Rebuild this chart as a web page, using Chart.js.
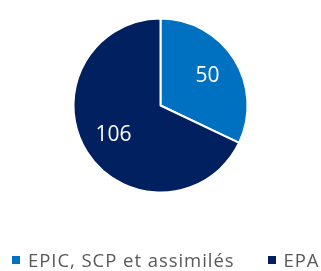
<!DOCTYPE html>
<html>
<head>
<meta charset="utf-8">
<script src="https://cdn.jsdelivr.net/npm/chart.js@4/dist/chart.umd.min.js"></script>
<style>
  html, body { margin: 0; padding: 0; background: #fff; }
  .wrap { position: relative; width: 321px; height: 271px; }
  #legend { position: absolute; left: 12px; top: 247px; display: flex; align-items: center;
            font-family: "Open Sans", sans-serif; font-size: 18.5px; letter-spacing: 0.95px;
            color: #595959; white-space: nowrap; }
  #legend .item { display: flex; align-items: center; margin-right: 33px; }
  #legend .item:last-child { margin-right: 0; }
  #legend .box { width: 8px; height: 8px; margin-right: 8px; }
</style>
</head>
<body>
<div class="wrap">
  <canvas id="chart-pie" width="321" height="271"></canvas>
  <div id="legend"></div>
</div>
<script>
// data
var labels = ['EPIC, SCP et assimilés', 'EPA'];
var values = [50, 106];
var colors = ['#0070C0', '#002060'];

// white numbers inside the slices
var sliceLabels = {
    id: 'sliceLabels',
    afterDatasetsDraw: function(chart) {
        var ctx = chart.ctx;
        var meta = chart.getDatasetMeta(0);
        ctx.save();
        ctx.fillStyle = '#fff';
        ctx.font = '21px "Open Sans", sans-serif';
        ctx.textAlign = 'center';
        ctx.textBaseline = 'middle';
        meta.data.forEach(function(arc, i) {
            var p = arc.getProps(['x', 'y', 'startAngle', 'endAngle', 'outerRadius'], true);
            var mid = (p.startAngle + p.endAngle) / 2;
            var r = p.outerRadius * 0.64;
            ctx.fillText(String(values[i]), p.x + Math.cos(mid) * r, p.y + Math.sin(mid) * r);
        });
        ctx.restore();
    }
};

var ctx = document.getElementById('chart-pie').getContext('2d');
var myPieChart = new Chart(ctx, {
    type: 'pie',
    data: {
        labels: labels,
        datasets: [{
            data: values,
            backgroundColor: colors,
            borderColor: '#fff',
            borderWidth: 2,
            radius: 87
        }]
    },
    options: {
        responsive: false,
        animation: false,
        layout: { padding: { top: 17, bottom: 77, left: 0, right: 0 } },
        plugins: {
            legend: { display: false },
            tooltip: { enabled: false }
        }
    },
    plugins: [sliceLabels]
});

// legend below the chart
var legend = document.getElementById('legend');
labels.forEach(function(l, i) {
    var item = document.createElement('div');
    item.className = 'item';
    var box = document.createElement('span');
    box.className = 'box';
    box.style.background = colors[i];
    var txt = document.createElement('span');
    txt.textContent = l;
    item.appendChild(box);
    item.appendChild(txt);
    legend.appendChild(item);
});
</script>
</body>
</html>
